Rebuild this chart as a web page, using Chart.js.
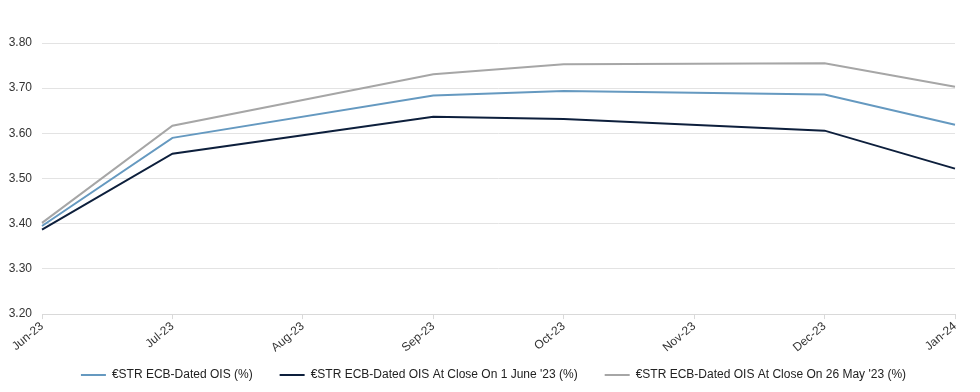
<!DOCTYPE html>
<html>
<head>
<meta charset="utf-8">
<script src="https://cdn.jsdelivr.net/npm/chart.js@4"></script>
<style>
html,body{margin:0;padding:0;background:#fff;}
#wrap{width:980px;height:392px;}
</style>
</head>
<body>
<div id="wrap"><canvas id="c" width="980" height="392"></canvas></div>
<script>
const categories = ["Jun-23","Jul-23","Aug-23","Sep-23","Oct-23","Nov-23","Dec-23","Jan-24"];
const oisNow     = [3.395, 3.590, null, 3.684, 3.694, null, 3.686, 3.619];
const ois1June   = [3.387, 3.555, null, 3.637, 3.632, null, 3.606, 3.522];
const ois26May   = [3.402, 3.617, null, 3.731, 3.753, null, 3.755, 3.703];
const seriesNames = ["€STR ECB-Dated OIS (%)", "€STR ECB-Dated OIS At Close On 1 June '23 (%)", "€STR ECB-Dated OIS At Close On 26 May '23 (%)"];
const yTicks = [3.20, 3.30, 3.40, 3.50, 3.60, 3.70, 3.80];

const colors = ["#6599c0", "#0d1f3c", "#a6a6a6"];
const mk = (label, data, color) => ({
  label, data, borderColor: color, backgroundColor: color,
  borderWidth: 2, pointRadius: 0, tension: 0, spanGaps: true
});

const SHRINK = 13;
const legendTweak = {
  id: 'legendTweak',
  beforeLayout(chart) {
    const lg = chart.legend;
    if (lg && !lg._patched) {
      const orig = lg.fit.bind(lg);
      lg.fit = function () { orig(); this.height -= SHRINK; };
      lg._patched = true;
    }
  },
  afterLayout(chart) {
    const lg = chart.legend;
    if (lg) { lg.top -= SHRINK; lg.left += 14; lg.right += 14; }
  }
};

new Chart(document.getElementById('c'), {
  type: 'line',
  data: {
    labels: categories,
    datasets: [
      mk(seriesNames[0], oisNow, colors[0]),
      mk(seriesNames[1], ois1June, colors[1]),
      mk(seriesNames[2], ois26May, colors[2])
    ]
  },
  plugins: [legendTweak],
  options: {
    responsive: false,
    animation: false,
    layout: { padding: { left: 4, right: 25, top: 43, bottom: 1 } },
    plugins: {
      tooltip: { enabled: false },
      legend: {
        position: 'bottom',
        labels: {
          boxWidth: 25, boxHeight: 2, padding: 27,
          color: '#222', font: { family: 'Liberation Sans, Arial', size: 12 },
          generateLabels: (chart) => Chart.defaults.plugins.legend.labels.generateLabels(chart)
            .map(l => Object.assign(l, { lineWidth: 0 }))
        }
      }
    },
    scales: {
      x: {
        offset: false,
        grid: { display: true, drawOnChartArea: false, drawTicks: true, tickLength: 5, color: '#d9d9d9' },
        border: { display: true, color: '#d9d9d9' },
        ticks: { minRotation: 40, maxRotation: 40, autoSkip: false, color: '#333', padding: 0,
                 font: { family: 'Liberation Sans, Arial', size: 12 } }
      },
      y: {
        min: 3.2, max: 3.8,
        afterBuildTicks: (s) => { s.ticks = yTicks.map(v => ({ value: v })); },
        afterFit: (s) => { s.width = 38; },
        grid: { color: '#e3e3e3', drawTicks: false },
        border: { display: false },
        ticks: { color: '#333', padding: 10, callback: (v) => Number(v).toFixed(2),
                 font: { family: 'Liberation Sans, Arial', size: 12 } }
      }
    }
  }
});
</script>
</body>
</html>
